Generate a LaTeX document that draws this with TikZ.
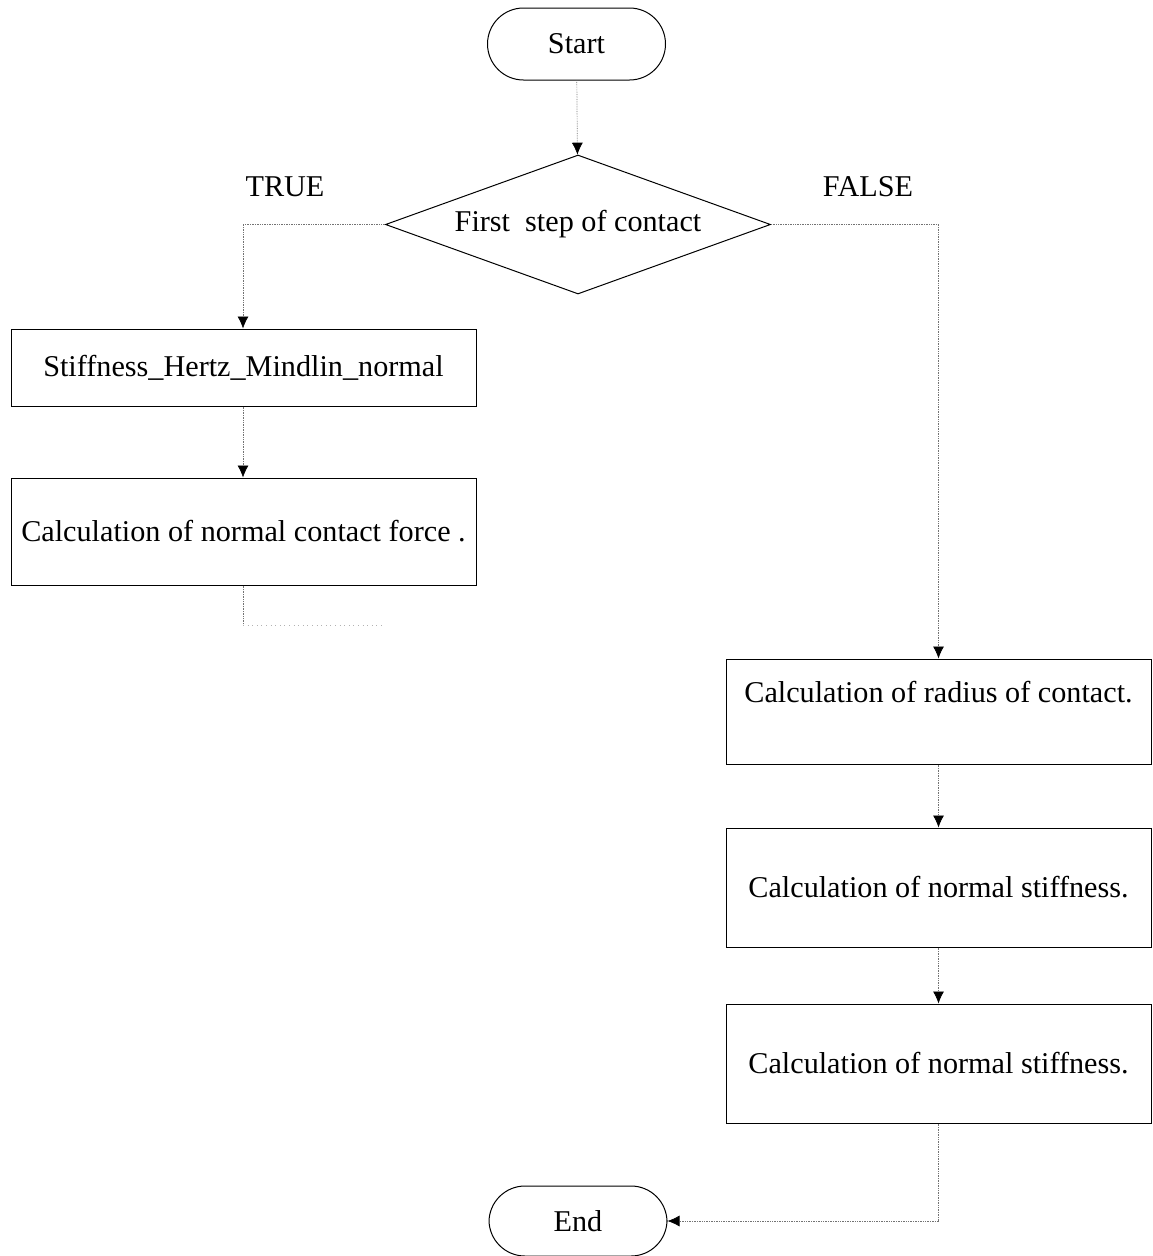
\documentclass[tikz,border=0pt]{standalone}
\usepackage{fontspec}
\setmainfont{Liberation Serif}
\usetikzlibrary{shapes.geometric,arrows.meta}

\tikzset{
  every node/.style={font=\fontsize{30.2}{36}\selectfont},
  shapeline/.style={draw=black, line width=1pt},
  terminal/.style={shapeline, rectangle, rounded corners=36pt,
    minimum width=178pt, minimum height=72pt, inner sep=0pt},
  decision/.style={shapeline, diamond, aspect=5, inner sep=0pt,
    minimum width=382pt, minimum height=139pt},
  stepbox/.style={shapeline, rectangle, inner sep=0pt},
  flow/.style={draw=black!55, line width=0.7pt, densely dotted},
  arrowflow/.style={flow, -{Latex[length=12pt,width=11pt,color=black]}},
  faint/.style={draw=black!30, line width=0.6pt, loosely dotted},
  branchlabel/.style={inner sep=0pt}
}

\begin{document}
\begin{tikzpicture}[x=1pt,y=-1pt]
\useasboundingbox (0,0) rectangle (1153,1256);

% terminals and decision
\node[terminal] (start) at (576.5,44) {Start};
\node[decision] (first) at (578,224.5) {First\ \ step of contact};
\node[terminal, minimum width=178pt, minimum height=70pt] (end) at (578,1221) {End};

% branch labels
\node[branchlabel] (true) at (285,187) {TRUE};
\node[branchlabel] (false) at (868,187) {FALSE};

% TRUE branch
\node[stepbox, minimum width=465pt, minimum height=77pt] (hertz) at (243.5,367.5)
  {Stiffness\_Hertz\_Mindlin\_normal};
\node[stepbox, minimum width=465pt, minimum height=107pt] (force) at (243.5,531.5)
  {Calculation of normal contact force .};

% FALSE branch
\node[stepbox, minimum width=425pt, minimum height=105pt, text depth=40pt] (radius) at (938.5,711.5)
  {Calculation of radius of contact.};
\node[stepbox, minimum width=425pt, minimum height=119pt] (stiffa) at (938.5,887.5)
  {Calculation of normal stiffness.};
\node[stepbox, minimum width=425pt, minimum height=119pt] (stiffb) at (938.5,1063.5)
  {Calculation of normal stiffness.};

% connectors
\coordinate (tl) at (243,224.5);
\coordinate (tr) at (938.5,224.5);
\coordinate (stubend) at (243,625);
\coordinate (stubfade) at (385,625);
\coordinate (br) at (938.5,1221);

\draw[arrowflow] (start) -- (first);
\draw[arrowflow] (first.west) -- (tl) -- (hertz.north -| tl);
\draw[arrowflow] (hertz.south -| tl) -- (force.north -| tl);
\draw[flow] (force.south -| tl) -- (stubend);
\draw[faint] (stubend) -- (stubfade);

\draw[arrowflow] (first.east) -- (tr) -- (radius.north);
\draw[arrowflow] (radius.south) -- (stiffa.north);
\draw[arrowflow] (stiffa.south) -- (stiffb.north);
\draw[arrowflow] (stiffb.south) -- (br) -- (end.east);
\end{tikzpicture}
\end{document}
